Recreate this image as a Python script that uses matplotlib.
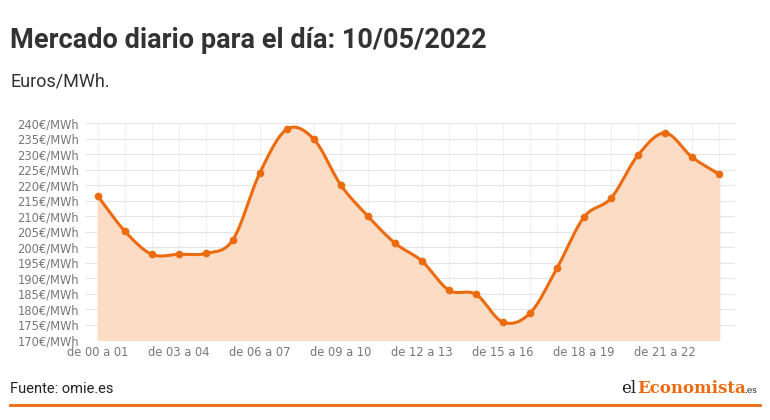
import numpy as np
import matplotlib.pyplot as plt
from matplotlib.lines import Line2D

hours = list(range(24))
prices = [216.5, 205.2, 197.7, 197.7, 198.0, 202.3, 223.9, 238.0, 234.8, 220.0, 210.0, 201.3,
          195.5, 186.1, 184.8, 175.8, 178.7, 193.2, 209.7, 215.8, 229.7, 236.8, 229.0, 223.5]
tick_pos = [0, 3, 6, 9, 12, 15, 18, 21]
tick_labels = ["de 00 a 01", "de 03 a 04", "de 06 a 07", "de 09 a 10",
               "de 12 a 13", "de 15 a 16", "de 18 a 19", "de 21 a 22"]
y_ticks = list(range(170, 245, 5))

ORANGE = "#ec6b0f"


def smooth(x, y, n=20):
    # catmull-rom spline through the points
    x = np.asarray(x, float)
    y = np.asarray(y, float)
    px = np.concatenate([[2 * x[0] - x[1]], x, [2 * x[-1] - x[-2]]])
    py = np.concatenate([[2 * y[0] - y[1]], y, [2 * y[-1] - y[-2]]])
    xs, ys = [], []
    t = np.linspace(0, 1, n, endpoint=False)
    for i in range(1, len(px) - 2):
        for p, out in ((px, xs), (py, ys)):
            p0, p1, p2, p3 = p[i - 1], p[i], p[i + 1], p[i + 2]
            out.extend(0.5 * (2 * p1 + (-p0 + p2) * t + (2 * p0 - 5 * p1 + 4 * p2 - p3) * t**2
                              + (-p0 + 3 * p1 - 3 * p2 + p3) * t**3))
    xs.append(x[-1])
    ys.append(y[-1])
    return np.array(xs), np.array(ys)


fig = plt.figure(figsize=(7.7, 4.2), dpi=100)
ax = fig.add_axes([0.11, 0.19, 0.845, 0.517])
ax.set_axisbelow(True)

sx, sy = smooth(hours, prices)
ax.fill_between(sx, sy, 170, color="#fddcc6", zorder=1)
ax.plot(sx, sy, color=ORANGE, lw=2.2, zorder=3)
ax.plot(hours, prices, "o", color=ORANGE, ms=4.5, zorder=4)

ax.set_xlim(-0.48, 23.6)
ax.set_ylim(170, 240)
ax.set_yticks(y_ticks)
ax.set_yticklabels([f"{v}€/MWh" for v in y_ticks])
ax.set_xticks(tick_pos)
ax.set_xticklabels(tick_labels)
ax.set_xticks(hours, minor=True)
ax.tick_params(axis="both", length=0, labelsize=8.3, labelcolor="#777777", pad=4)
ax.tick_params(axis="x", which="minor", length=0)
ax.grid(axis="y", color="#e6e6e6", lw=0.8, zorder=0)
ax.grid(axis="x", which="both", color="#f0f0f0", lw=0.8, zorder=0)
for s in ax.spines.values():
    s.set_visible(False)

fig.text(0.013, 0.885, "Mercado diario para el día: 10/05/2022", fontsize=19.5, weight="bold",
         family="Roboto", color="#333333")
fig.text(0.013, 0.795, "Euros/MWh.", fontsize=13, family="Roboto", color="#333333")
fig.text(0.013, 0.065, "Fuente: omie.es", fontsize=10.5, family="Roboto", color="#222222")
fig.text(0.807, 0.065, "el", fontsize=12, family="DejaVu Serif", color="#222222")
fig.text(0.828, 0.065, "Economista", fontsize=12, family="DejaVu Serif", color=ORANGE, weight="bold")
fig.text(0.966, 0.065, ".es", fontsize=6.5, family="DejaVu Serif", color="#222222")
fig.add_artist(Line2D([0.013, 0.987], [0.035, 0.035], color=ORANGE, lw=2))

fig.savefig("out.png", dpi=100)
